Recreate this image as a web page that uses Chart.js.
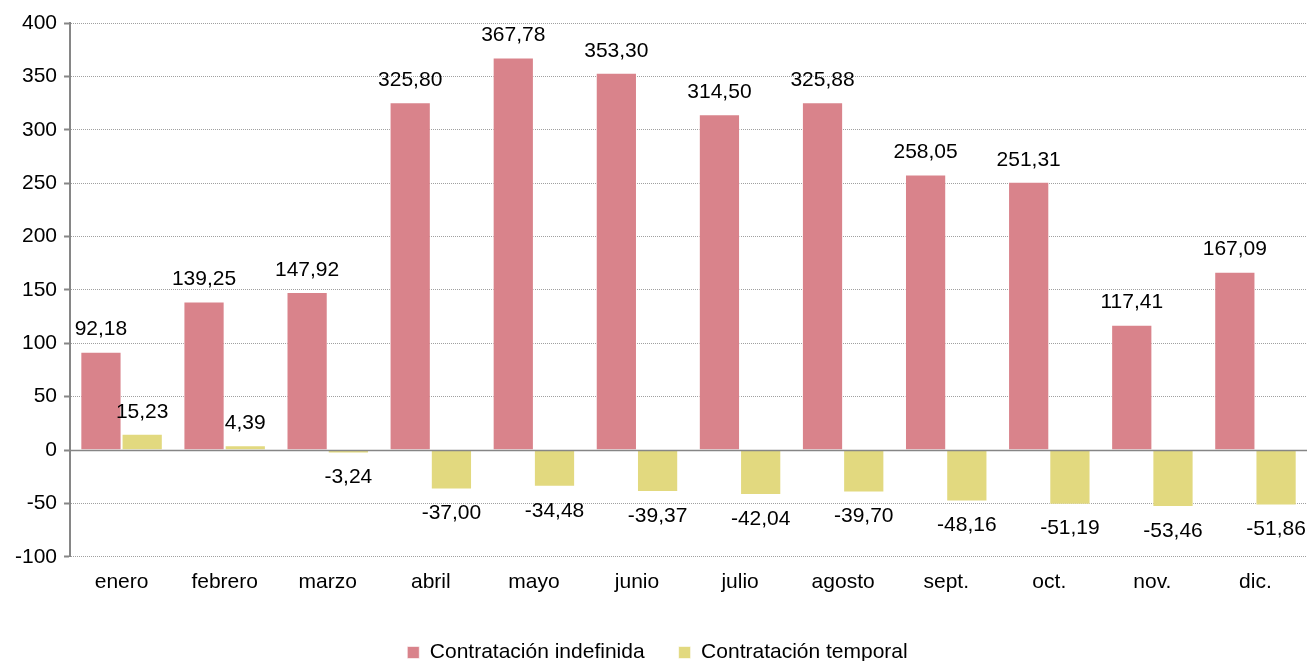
<!DOCTYPE html>
<html>
<head>
<meta charset="utf-8">
<script src="https://cdn.jsdelivr.net/npm/chart.js@4/dist/chart.umd.min.js"></script>
<style>
  html, body { margin: 0; padding: 0; background: #fff; }
  #wrap { width: 1307px; height: 661px; }
</style>
</head>
<body>
<div id="wrap"><canvas id="myChart"></canvas></div>
<script>
// datos del grafico
const meses = ["enero", "febrero", "marzo", "abril", "mayo", "junio", "julio", "agosto", "sept.", "oct.", "nov.", "dic."];
const indefinida = [92.18, 139.25, 147.92, 325.80, 367.78, 353.30, 314.50, 325.88, 258.05, 251.31, 117.41, 167.09];
const temporal = [15.23, 4.39, -3.24, -37.00, -34.48, -39.37, -42.04, -39.70, -48.16, -51.19, -53.46, -51.86];
const nombres = ["Contratación indefinida", "Contratación temporal"];
const colores = ["#d9838b", "#e2d97f"];

const fuente = "'Liberation Sans', Arial, sans-serif";
const tam = 21;

// etiquetas de valor y linea del cero
const etiquetas = {
  id: "etiquetas",
  afterDatasetsDraw(chart) {
    const ctx = chart.ctx;
    const y = chart.scales.y;
    const area = chart.chartArea;
    const y0 = Math.round(y.getPixelForValue(0)) + 0.5;
    ctx.save();
    ctx.strokeStyle = "#868686";
    ctx.lineWidth = 1.5;
    ctx.beginPath();
    ctx.moveTo(area.left, y0);
    ctx.lineTo(area.right, y0);
    ctx.stroke();

    ctx.font = tam + "px " + fuente;
    ctx.fillStyle = "#000";
    ctx.textAlign = "center";
    ctx.textBaseline = "middle";
    chart.data.datasets.forEach(function (ds, i) {
      const meta = chart.getDatasetMeta(i);
      meta.data.forEach(function (bar, j) {
        const v = ds.data[j];
        const txt = v.toFixed(2).replace(".", ",");
        if (v >= 0) {
          ctx.fillText(txt, bar.x, bar.y - 22);
        } else {
          ctx.fillText(txt, bar.x, bar.y + 24);
        }
      });
    });
    ctx.restore();
  }
};

new Chart("myChart", {
  type: "bar",
  data: {
    labels: meses,
    datasets: [{
      label: nombres[0],
      data: indefinida,
      backgroundColor: colores[0],
      borderColor: "rgba(255,255,255,0.6)",
      borderWidth: 1
    }, {
      label: nombres[1],
      data: temporal,
      backgroundColor: colores[1],
      borderColor: "rgba(255,255,255,0.6)",
      borderWidth: 1
    }]
  },
  options: {
    responsive: true,
    maintainAspectRatio: false,
    animation: false,
    categoryPercentage: 0.8,
    barPercentage: 1.0,
    layout: { padding: { left: 8, right: 0, top: 23, bottom: -12 } },
    plugins: {
      tooltip: { enabled: false },
      legend: {
        position: "bottom",
        labels: {
          font: { size: tam, family: fuente },
          color: "#000",
          boxWidth: 12,
          boxHeight: 12,
          padding: 34
        }
      }
    },
    scales: {
      x: {
        grid: { display: false, drawTicks: false },
        border: { display: false },
        ticks: {
          font: { size: tam, family: fuente },
          color: "#000",
          padding: 13
        }
      },
      y: {
        min: -100,
        max: 400,
        ticks: {
          stepSize: 50,
          font: { size: tam, family: fuente },
          color: "#000",
          padding: 7
        },
        grid: {
          color: "#a0a0a0",
          lineWidth: 1,
          tickLength: 6,
          tickColor: "#868686",
          tickWidth: 2
        },
        border: {
          display: true,
          color: "#868686",
          width: 2,
          dash: [1, 1]
        }
      }
    }
  },
  plugins: [etiquetas]
});
</script>
</body>
</html>
